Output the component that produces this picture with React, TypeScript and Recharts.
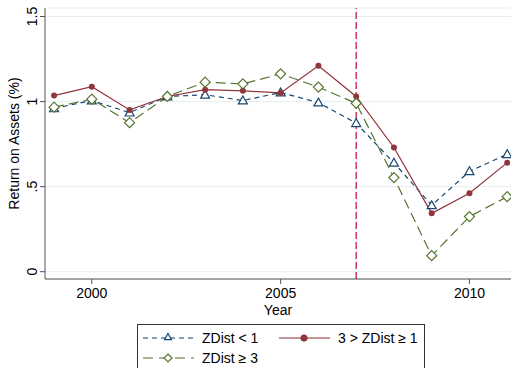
import { CartesianGrid, Legend, Line, LineChart, ReferenceLine, XAxis, YAxis } from "recharts";

const years = [1999, 2000, 2001, 2002, 2003, 2004, 2005, 2006, 2007, 2008, 2009, 2010, 2011];
const zdistLow = [0.96, 1.006, 0.935, 1.03, 1.04, 1.006, 1.053, 0.994, 0.873, 0.64, 0.39, 0.59, 0.69];
const zdistMid = [1.035, 1.087, 0.951, 1.03, 1.07, 1.063, 1.051, 1.21, 1.03, 0.73, 0.343, 0.461, 0.641];
const zdistHigh = [0.967, 1.014, 0.876, 1.03, 1.114, 1.104, 1.163, 1.085, 0.99, 0.553, 0.094, 0.324, 0.441];

const xTicks = [2000, 2005, 2010];
const yTicks = [0, 0.5, 1, 1.5];
const yTickLabels = ["0", ".5", "1", "1.5"];
const crisisYear = 2007;

const BLUE = "#1a476f";
const RED = "#90353b";
const GREEN = "#55752f";
const FONT = "'Liberation Sans', Arial, sans-serif";

const data = years.map((year, i) => ({
  year,
  low: zdistLow[i],
  mid: zdistMid[i],
  high: zdistHigh[i],
}));

function Triangle(props: any) {
  const { cx, cy, stroke, size = 4.5 } = props;
  if (cx == null || cy == null) return null;
  const h = size;
  return (
    <path
      d={`M${cx},${cy - h} L${cx + h},${cy + h * 0.75} L${cx - h},${cy + h * 0.75} Z`}
      fill="#fff"
      stroke={stroke}
      strokeWidth={1.2}
    />
  );
}

function Diamond(props: any) {
  const { cx, cy, stroke, size = 5 } = props;
  if (cx == null || cy == null) return null;
  return (
    <path
      d={`M${cx},${cy - size} L${cx + size},${cy} L${cx},${cy + size} L${cx - size},${cy} Z`}
      fill="#fff"
      stroke={stroke}
      strokeWidth={1.2}
    />
  );
}

function Dot(props: any) {
  const { cx, cy, fill, r = 4 } = props;
  if (cx == null || cy == null) return null;
  return <circle cx={cx} cy={cy} r={r} fill={fill} />;
}

// rotated y tick labels, reading bottom-to-top
function YTick(props: any) {
  const { x, y, payload } = props;
  const idx = yTicks.indexOf(payload.value);
  const bx = x - 1;
  return (
    <text
      x={bx}
      y={y}
      transform={`rotate(-90 ${bx} ${y})`}
      textAnchor="middle"
      fontSize={14}
      fontFamily={FONT}
      fill="#000"
    >
      {idx >= 0 ? yTickLabels[idx] : payload.value}
    </text>
  );
}

// axis title under the tick labels (viewBox is the x-axis band)
function YearLabel(props: any) {
  const { viewBox } = props;
  if (!viewBox) return null;
  return (
    <text
      x={viewBox.x + viewBox.width / 2}
      y={viewBox.y + 36}
      textAnchor="middle"
      fontSize={14}
      fontFamily={FONT}
      fill="#000"
    >
      Year
    </text>
  );
}

const legendItems = [
  { label: "ZDist < 1", color: BLUE, dash: "5 4", marker: "triangle", x: 6, y: 14 },
  { label: "3 > ZDist ≥ 1", color: RED, dash: undefined, marker: "circle", x: 142, y: 14 },
  { label: "ZDist ≥ 3", color: GREEN, dash: "10 6", marker: "diamond", x: 6, y: 34 },
];

function LegendBox() {
  return (
    <svg width={289} height={50} style={{ display: "block" }}>
      <rect x={0.5} y={0.5} width={287} height={60} fill="#fff" stroke="#333" strokeWidth={1} />
      {legendItems.map((item) => (
        <g key={item.label}>
          <line
            x1={item.x}
            x2={item.x + 51}
            y1={item.y}
            y2={item.y}
            stroke={item.color}
            strokeOpacity={0.7}
            strokeWidth={1.5}
            strokeDasharray={item.dash}
          />
          {item.marker === "triangle" && <Triangle cx={item.x + 25} cy={item.y - 1} stroke={item.color} size={3.5} />}
          {item.marker === "circle" && <Dot cx={item.x + 25} cy={item.y} fill={RED} r={3.5} />}
          {item.marker === "diamond" && <Diamond cx={item.x + 25} cy={item.y} stroke={item.color} size={4} />}
          <text x={item.x + 59} y={item.y + 5} fontSize={14} fontFamily={FONT} fill="#000">
            {item.label}
          </text>
        </g>
      ))}
    </svg>
  );
}

export default function App() {
  return (
    <div style={{ position: "absolute", left: 0, top: 0, width: 513, height: 368, background: "#fff" }}>
      <LineChart width={513} height={368} data={data} margin={{ top: 8, right: 2, bottom: 0, left: 0 }}>
        <CartesianGrid horizontal vertical={false} stroke="#e6eef0" strokeWidth={1} />
        <XAxis
          dataKey="year"
          type="number"
          domain={[1998.76, 2011.1]}
          ticks={xTicks}
          allowDataOverflow
          height={89}
          stroke="#555"
          tickSize={5}
          tick={{ fontSize: 14, fontFamily: FONT, fill: "#000", dy: 2 }}
          label={<YearLabel />}
        />
        <YAxis
          type="number"
          domain={[-0.043, 1.55]}
          ticks={yTicks}
          allowDataOverflow
          width={45}
          stroke="#555"
          tickSize={5}
          tick={<YTick />}
          label={{
            value: "Return on Assets (%)",
            angle: -90,
            position: "insideLeft",
            offset: 14,
            fontSize: 14,
            fontFamily: FONT,
            fill: "#000",
            style: { textAnchor: "middle" },
          }}
        />
        <ReferenceLine x={crisisYear} stroke="#c10534" strokeWidth={1.2} strokeDasharray="7 3" />
        <Line
          type="linear"
          dataKey="low"
          stroke={BLUE}
          strokeWidth={1.2}
          strokeDasharray="5 4"
          dot={<Triangle stroke={BLUE} />}
          isAnimationActive={false}
        />
        <Line
          type="linear"
          dataKey="mid"
          stroke={RED}
          strokeWidth={1.2}
          dot={<Dot fill={RED} />}
          isAnimationActive={false}
        />
        <Line
          type="linear"
          dataKey="high"
          stroke={GREEN}
          strokeWidth={1.2}
          strokeDasharray="10 5"
          dot={<Diamond stroke={GREEN} />}
          isAnimationActive={false}
        />
        <Legend
          layout="horizontal"
          verticalAlign="middle"
          align="center"
          content={<LegendBox />}
          wrapperStyle={{ left: 137, top: 324, width: 289, height: 50 }}
        />
      </LineChart>
    </div>
  );
}
